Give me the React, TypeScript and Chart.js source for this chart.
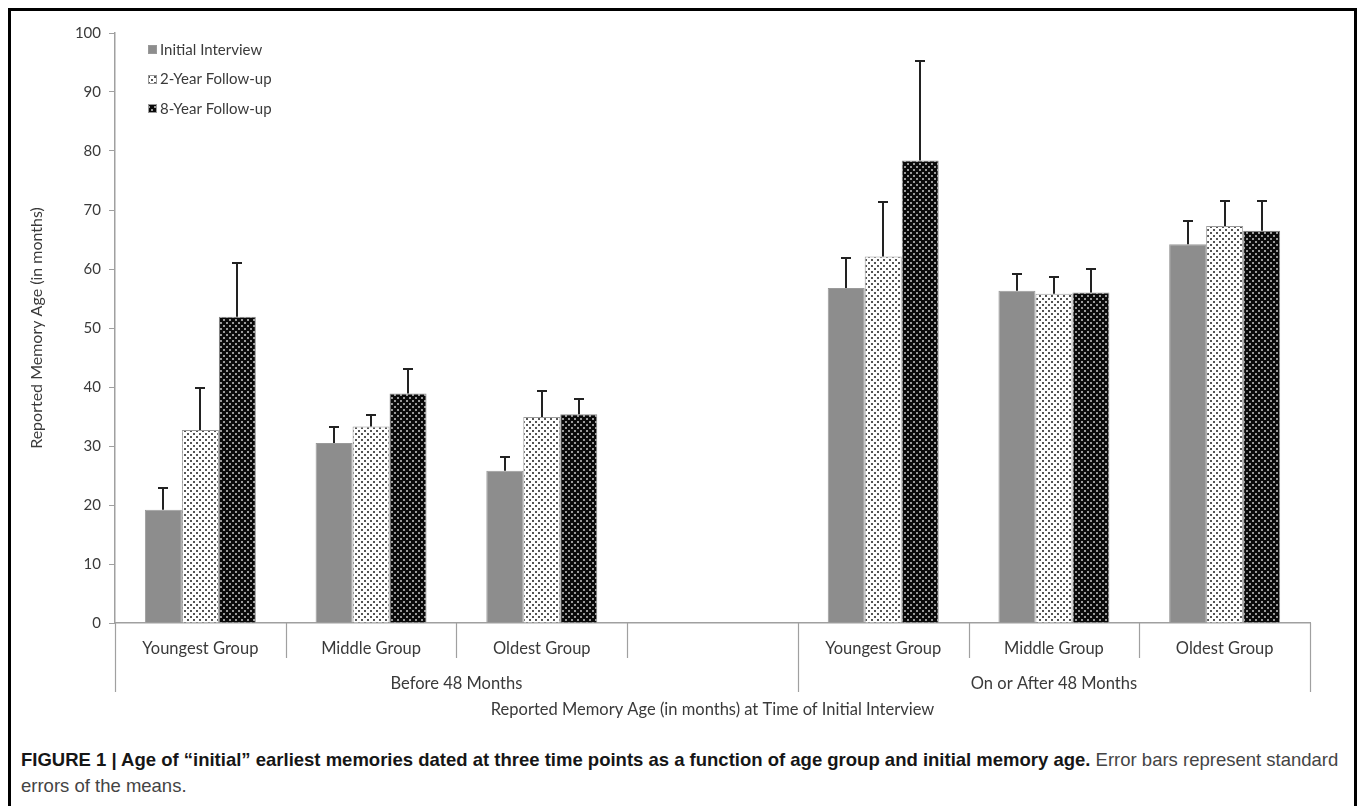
import React, { useEffect, useRef } from 'react';
import { Chart, registerables } from 'chart.js';
Chart.register(...registerables);

const categories = ['Youngest Group', 'Middle Group', 'Oldest Group', '', 'Youngest Group', 'Middle Group', 'Oldest Group'];
const groupLabels = ['Before 48 Months', 'On or After 48 Months'];
const groupStarts = [0, 4];
const groupEnds = [3, 6];
const seriesNames = ['Initial Interview', '2-Year Follow-up', '8-Year Follow-up'];
const initialMeans = [19.2, 30.5, 25.8, null, 56.8, 56.3, 64.2];
const initialSE = [3.6, 2.8, 2.4, null, 5.1, 2.8, 4.0];
const twoYearMeans = [32.7, 33.3, 34.9, null, 62.1, 55.8, 67.3];
const twoYearSE = [7.2, 2.0, 4.4, null, 9.2, 2.8, 4.2];
const eightYearMeans = [51.9, 38.9, 35.4, null, 78.4, 56.0, 66.5];
const eightYearSE = [9.2, 4.2, 2.5, null, 16.8, 4.0, 5.0];
const yMin = 0;
const yMax = 100;
const yStep = 10;
const yAxisTitle = 'Reported Memory Age (in months)';
const xAxisTitle = 'Reported Memory Age (in months) at Time of Initial Interview';

const FONT = 'Lato, "Open Sans", sans-serif';
const TEXT = '#3a3a3a';
const AXIS = '#a0a0a0';

function makePattern(bg: string, dot: string): CanvasPattern | string {
  const c = document.createElement('canvas');
  c.width = 6;
  c.height = 6;
  const g = c.getContext('2d');
  if (!g) return bg;
  g.fillStyle = bg;
  g.fillRect(0, 0, 6, 6);
  g.fillStyle = dot;
  g.fillRect(1, 1, 2, 2);
  g.fillRect(4, 4, 2, 2);
  const p = g.createPattern(c, 'repeat');
  return p || bg;
}

export default function App() {
  const ref = useRef<HTMLCanvasElement | null>(null);

  useEffect(() => {
    document.documentElement.style.overflow = 'hidden';
    const canvas = ref.current;
    if (!canvas) return;
    const fills = [
      '#8d8d8d',
      makePattern('#ffffff', '#555555'),
      makePattern('#0a0a0a', '#9a9a9a'),
    ];
    const seList = [initialSE, twoYearSE, eightYearSE];

    const errorBars = {
      id: 'errorBars',
      afterDatasetsDraw(chart: any) {
        const ctx = chart.ctx;
        const ys = chart.scales.y;
        ctx.save();
        ctx.strokeStyle = '#222';
        ctx.lineWidth = 2;
        seList.forEach((se, di) => {
          const meta = chart.getDatasetMeta(di);
          meta.data.forEach((bar: any, i: number) => {
            const v = chart.data.datasets[di].data[i];
            if (v == null || se[i] == null) return;
            const top = Math.round(ys.getPixelForValue(v + (se[i] as number)));
            const x = Math.round(bar.x);
            ctx.beginPath();
            ctx.moveTo(x, bar.y);
            ctx.lineTo(x, top);
            ctx.moveTo(x - 5, top);
            ctx.lineTo(x + 5, top);
            ctx.stroke();
          });
        });
        ctx.restore();
      },
    };

    const decorations = {
      id: 'decorations',
      afterDraw(chart: any) {
        const ctx = chart.ctx;
        const xs = chart.scales.x;
        const area = chart.chartArea;
        const n = categories.length;
        const edge = (k: number) => {
          if (k <= 0) return area.left;
          if (k >= n) return area.right;
          return (xs.getPixelForTick(k - 1) + xs.getPixelForTick(k)) / 2;
        };
        const outer = new Set<number>([0, n]);
        groupStarts.forEach((s) => outer.add(s));
        groupEnds.forEach((e) => outer.add(e + 1));
        ctx.save();
        ctx.strokeStyle = AXIS;
        ctx.lineWidth = 1.2;
        for (let k = 0; k <= n; k++) {
          const x = Math.round(edge(k)) + 0.5;
          const bottom = outer.has(k) ? area.bottom + 69 : area.bottom + 35;
          ctx.beginPath();
          ctx.moveTo(x, area.bottom);
          ctx.lineTo(x, bottom);
          ctx.stroke();
        }
        ctx.fillStyle = TEXT;
        ctx.font = `16.5px ${FONT}`;
        ctx.textAlign = 'center';
        ctx.textBaseline = 'middle';
        groupLabels.forEach((lab, gi) => {
          const cx = (edge(groupStarts[gi]) + edge(groupEnds[gi] + 1)) / 2;
          ctx.fillText(lab, cx, area.bottom + 61);
        });
        // legend
        ctx.font = `15px ${FONT}`;
        ctx.textAlign = 'left';
        chart.data.datasets.forEach((ds: any, i: number) => {
          const cy = 50 + i * 29.5;
          const top = Math.round(cy - 5);
          ctx.fillStyle = ds.backgroundColor;
          ctx.fillRect(148, top, 9, 9);
          ctx.strokeStyle = '#999';
          ctx.lineWidth = 1;
          ctx.strokeRect(148.5, top + 0.5, 8, 8);
          ctx.fillStyle = TEXT;
          ctx.fillText(ds.label, 160, cy);
        });
        ctx.restore();
      },
    };

    const chart = new Chart(canvas, {
      type: 'bar',
      data: {
        labels: categories,
        datasets: [
          { label: seriesNames[0], data: initialMeans, backgroundColor: fills[0] as any, borderColor: '#9a9a9a', borderWidth: 1 },
          { label: seriesNames[1], data: twoYearMeans, backgroundColor: fills[1] as any, borderColor: '#9a9a9a', borderWidth: 1 },
          { label: seriesNames[2], data: eightYearMeans, backgroundColor: fills[2] as any, borderColor: '#8a8a8a', borderWidth: 1 },
        ],
      },
      options: {
        responsive: false,
        animation: false,
        devicePixelRatio: 1,
        categoryPercentage: 0.65,
        barPercentage: 1.0,
        layout: { padding: { left: 0, top: 33, right: 48, bottom: 0 } },
        plugins: {
          legend: { display: false },
          title: { display: false },
          tooltip: { enabled: false },
        },
        scales: {
          x: {
            grid: { display: false },
            border: { display: true, color: AXIS, width: 1.5 },
            ticks: { color: TEXT, font: { family: FONT, size: 16.5 }, padding: 8, maxRotation: 0, autoSkip: false },
            title: { display: true, text: xAxisTitle, color: TEXT, font: { family: FONT, size: 16.5 }, padding: { top: 0, bottom: 20 } },
            afterFit: (s: any) => { s.height = 117; },
          },
          y: {
            min: yMin,
            max: yMax,
            grid: { display: true, drawOnChartArea: false, drawTicks: true, tickLength: 6, color: AXIS },
            border: { display: true, color: AXIS, width: 1.5 },
            ticks: { stepSize: yStep, color: TEXT, font: { family: FONT, size: 15 }, padding: 8 },
            title: { display: true, text: yAxisTitle, color: TEXT, font: { family: FONT, size: 16 }, padding: { top: 27, bottom: 4 } },
            afterFit: (s: any) => { s.width = 115; },
          },
        },
      },
      plugins: [errorBars, decorations],
    });
    return () => chart.destroy();
  }, []);

  return (
    <div style={{ position: 'absolute', left: 0, top: 0, width: 1358, height: 806, overflow: 'hidden', background: '#fff' }}>
      <div style={{ position: 'absolute', left: 8, top: 8, width: 1349, height: 840, border: '3px solid #000', boxSizing: 'border-box' }} />
      <canvas ref={ref} width={1358} height={740} style={{ position: 'absolute', left: 0, top: 0, width: 1358, height: 740 }} />
      <div style={{ position: 'absolute', left: 21, top: 747, fontFamily: '"Liberation Sans", Arial, sans-serif', fontSize: 18.5, lineHeight: '26px', whiteSpace: 'nowrap' }}>
        <b style={{ color: '#161616' }}>FIGURE 1 | Age of “initial” earliest memories dated at three time points as a function of age group and initial memory age.</b>
        <span style={{ color: '#444' }}> Error bars represent standard</span>
        <br />
        <span style={{ color: '#444' }}>errors of the means.</span>
      </div>
    </div>
  );
}
